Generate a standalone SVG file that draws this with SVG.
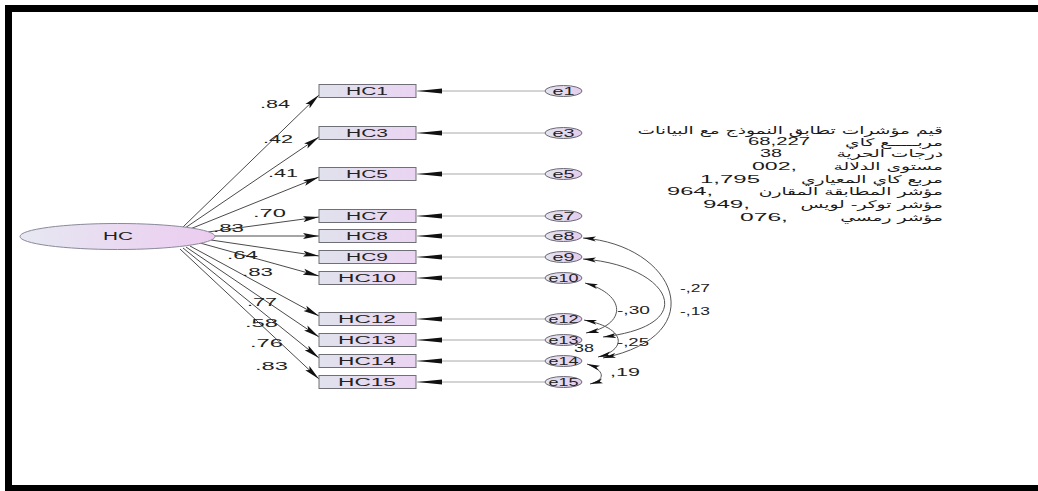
<svg xmlns="http://www.w3.org/2000/svg" width="1038" height="491" viewBox="0 0 1038 491">
<style>
.lat{fill:url(#gLat);stroke:#8a8a9a;stroke-width:1}
.obs{fill:url(#gObs);stroke:#6f6f78;stroke-width:1}
.err{fill:url(#gErr);stroke:#6a6a78;stroke-width:1}
.t{font-family:"Liberation Sans",Arial,sans-serif;fill:#222}
.nt{font-size:10px;text-anchor:middle}
.ld{font-size:11px}
.p{stroke:#4a4a4a;stroke-width:1;fill:none;marker-end:url(#ah)}
.el{stroke:#a8a8a8;stroke-width:1;fill:none;marker-end:url(#eh)}
.cv{stroke:#555;stroke-width:1;fill:none;marker-start:url(#ch);marker-end:url(#ch)}
.ar{font-family:"DejaVu Sans","Noto Sans",sans-serif;font-size:10.5px;fill:#1a1a1a;text-anchor:end}
.num{font-family:"Liberation Sans",Arial,sans-serif;font-size:11px;fill:#1a1a1a}
</style>
<defs>
<linearGradient id="gLat" x1="0" y1="0" x2="1" y2="0"><stop offset="0" stop-color="#e6e8f2"/><stop offset="1" stop-color="#ecccf0"/></linearGradient>
<linearGradient id="gObs" x1="0" y1="0" x2="1" y2="0"><stop offset="0" stop-color="#e0e2ec"/><stop offset="1" stop-color="#ead4f2"/></linearGradient>
<linearGradient id="gErr" x1="0" y1="0" x2="1" y2="0"><stop offset="0" stop-color="#e4e4ee"/><stop offset="1" stop-color="#e4cdee"/></linearGradient>
<marker id="ah" markerUnits="userSpaceOnUse" markerWidth="16" markerHeight="7" refX="16" refY="3.5" orient="auto"><path d="M0,0.5 L16,3.5 L0,6.5 L3,3.5 z" fill="#111"/></marker>
<marker id="eh" markerUnits="userSpaceOnUse" markerWidth="25" markerHeight="6" refX="25" refY="3" orient="auto"><path d="M0,0.6 L25,3 L0,5.4 z" fill="#111"/></marker>
<marker id="ch" markerUnits="userSpaceOnUse" markerWidth="13" markerHeight="6" refX="13" refY="3" orient="auto-start-reverse"><path d="M0,0.5 L13,3 L0,5.5 L3,3 z" fill="#111"/></marker>
</defs>
<rect x="0" y="0" width="1038" height="491" fill="#fff"/>
<g id="frame" fill="none" stroke="#000">
<line x1="5" y1="8.5" x2="1038" y2="8.5" stroke-width="7"/>
<line x1="8.5" y1="5" x2="8.5" y2="491" stroke-width="7"/>
<line x1="5" y1="488" x2="1038" y2="488" stroke-width="6"/>
</g>
<g id="connectors">
<path class="p" d="M183,227 L319,95"/>
<path class="p" d="M185,228 L319,137"/>
<path class="p" d="M190,229 L319,177"/>
<path class="p" d="M208,232 L319,217"/>
<path class="p" d="M215,236 L319,236"/>
<path class="p" d="M211,240 L319,256"/>
<path class="p" d="M200,243 L319,276"/>
<path class="p" d="M190,246 L319,316"/>
<path class="p" d="M186,247 L319,337"/>
<path class="p" d="M183,248 L319,358"/>
<path class="p" d="M180,249 L319,379"/>
<path class="el" d="M545,91 L417,91"/>
<path class="el" d="M545,133 L417,133"/>
<path class="el" d="M545,174 L417,174"/>
<path class="el" d="M545,216 L417,216"/>
<path class="el" d="M545,236 L417,236"/>
<path class="el" d="M545,257 L417,257"/>
<path class="el" d="M545,278 L417,278"/>
<path class="el" d="M545,319 L417,319"/>
<path class="el" d="M545,340 L417,340"/>
<path class="el" d="M545,361 L417,361"/>
<path class="el" d="M545,382 L417,382"/>
<path class="cv" d="M583,238 C675,245 715,335 603,358"/>
<path class="cv" d="M583,259 C668,265 705,325 603,337"/>
<path class="cv" d="M585,283 C627,295 627,325 586,333"/>
<path class="cv" d="M584,320 C627,328 627,350 598,357"/>
<path class="cv" d="M587,364 C605,370 606,380 590,384"/>
<g class="t ld">
<text x="260" y="108" textLength="30" lengthAdjust="spacingAndGlyphs">.84</text>
<text x="263" y="143" textLength="30" lengthAdjust="spacingAndGlyphs">.42</text>
<text x="268" y="177" textLength="30" lengthAdjust="spacingAndGlyphs">.41</text>
<text x="253" y="217" textLength="33" lengthAdjust="spacingAndGlyphs">.70</text>
<text x="213" y="232" textLength="31" lengthAdjust="spacingAndGlyphs">.83</text>
<text x="227" y="259" textLength="31" lengthAdjust="spacingAndGlyphs">.64</text>
<text x="242" y="276" textLength="31" lengthAdjust="spacingAndGlyphs">.83</text>
<text x="247" y="306" textLength="30" lengthAdjust="spacingAndGlyphs">.77</text>
<text x="245" y="327" textLength="33" lengthAdjust="spacingAndGlyphs">.58</text>
<text x="250" y="347" textLength="33" lengthAdjust="spacingAndGlyphs">.76</text>
<text x="255" y="370" textLength="33" lengthAdjust="spacingAndGlyphs">.83</text>
<text x="680" y="292" textLength="30" lengthAdjust="spacingAndGlyphs">-,27</text>
<text x="680" y="315" textLength="30" lengthAdjust="spacingAndGlyphs">-,13</text>
<text x="617" y="314" textLength="33" lengthAdjust="spacingAndGlyphs">-,30</text>
<text x="617" y="346" textLength="32" lengthAdjust="spacingAndGlyphs">-,25</text>
<text x="610" y="376" textLength="30" lengthAdjust="spacingAndGlyphs">,19</text>
<text x="574" y="352" textLength="20" lengthAdjust="spacingAndGlyphs">38</text>
</g>
</g>
<g id="HC"><ellipse class="lat" cx="117.5" cy="236.5" rx="97.5" ry="13"/><text class="t nt" x="118" y="240" textLength="30" lengthAdjust="spacingAndGlyphs">HC</text></g>
<g id="HC1"><rect class="obs" x="319" y="84.5" width="97" height="13"/><text class="t nt" x="367" y="95" textLength="42" lengthAdjust="spacingAndGlyphs">HC1</text></g>
<g id="HC3"><rect class="obs" x="319" y="126.5" width="97" height="13"/><text class="t nt" x="367" y="137" textLength="42" lengthAdjust="spacingAndGlyphs">HC3</text></g>
<g id="HC5"><rect class="obs" x="319" y="167.5" width="97" height="13"/><text class="t nt" x="367" y="178" textLength="42" lengthAdjust="spacingAndGlyphs">HC5</text></g>
<g id="HC7"><rect class="obs" x="319" y="209.5" width="97" height="13"/><text class="t nt" x="367" y="220" textLength="42" lengthAdjust="spacingAndGlyphs">HC7</text></g>
<g id="HC8"><rect class="obs" x="319" y="229.5" width="97" height="13"/><text class="t nt" x="367" y="240" textLength="42" lengthAdjust="spacingAndGlyphs">HC8</text></g>
<g id="HC9"><rect class="obs" x="319" y="250.5" width="97" height="13"/><text class="t nt" x="367" y="261" textLength="42" lengthAdjust="spacingAndGlyphs">HC9</text></g>
<g id="HC10"><rect class="obs" x="319" y="271.5" width="97" height="13"/><text class="t nt" x="367" y="282" textLength="58" lengthAdjust="spacingAndGlyphs">HC10</text></g>
<g id="HC12"><rect class="obs" x="319" y="312.5" width="97" height="13"/><text class="t nt" x="367" y="323" textLength="58" lengthAdjust="spacingAndGlyphs">HC12</text></g>
<g id="HC13"><rect class="obs" x="319" y="333.5" width="97" height="13"/><text class="t nt" x="367" y="344" textLength="58" lengthAdjust="spacingAndGlyphs">HC13</text></g>
<g id="HC14"><rect class="obs" x="319" y="354.5" width="97" height="13"/><text class="t nt" x="367" y="365" textLength="58" lengthAdjust="spacingAndGlyphs">HC14</text></g>
<g id="HC15"><rect class="obs" x="319" y="375.5" width="97" height="13"/><text class="t nt" x="367" y="386" textLength="58" lengthAdjust="spacingAndGlyphs">HC15</text></g>
<g id="e1"><ellipse class="err" cx="563.5" cy="91" rx="18.5" ry="5.5"/><text class="t nt" x="563.5" y="94.5" textLength="22" lengthAdjust="spacingAndGlyphs">e1</text></g>
<g id="e3"><ellipse class="err" cx="563.5" cy="133" rx="18.5" ry="5.5"/><text class="t nt" x="563.5" y="136.5" textLength="22" lengthAdjust="spacingAndGlyphs">e3</text></g>
<g id="e5"><ellipse class="err" cx="563.5" cy="174" rx="18.5" ry="5.5"/><text class="t nt" x="563.5" y="177.5" textLength="22" lengthAdjust="spacingAndGlyphs">e5</text></g>
<g id="e7"><ellipse class="err" cx="563.5" cy="216" rx="18.5" ry="5.5"/><text class="t nt" x="563.5" y="219.5" textLength="22" lengthAdjust="spacingAndGlyphs">e7</text></g>
<g id="e8"><ellipse class="err" cx="563.5" cy="236" rx="18.5" ry="5.5"/><text class="t nt" x="563.5" y="239.5" textLength="22" lengthAdjust="spacingAndGlyphs">e8</text></g>
<g id="e9"><ellipse class="err" cx="563.5" cy="257" rx="18.5" ry="5.5"/><text class="t nt" x="563.5" y="260.5" textLength="22" lengthAdjust="spacingAndGlyphs">e9</text></g>
<g id="e10"><ellipse class="err" cx="563.5" cy="278" rx="18.5" ry="5.5"/><text class="t nt" x="563.5" y="281.5" textLength="30" lengthAdjust="spacingAndGlyphs">e10</text></g>
<g id="e12"><ellipse class="err" cx="563.5" cy="319" rx="18.5" ry="5.5"/><text class="t nt" x="563.5" y="322.5" textLength="30" lengthAdjust="spacingAndGlyphs">e12</text></g>
<g id="e13"><ellipse class="err" cx="563.5" cy="340" rx="18.5" ry="5.5"/><text class="t nt" x="563.5" y="343.5" textLength="30" lengthAdjust="spacingAndGlyphs">e13</text></g>
<g id="e14"><ellipse class="err" cx="563.5" cy="361" rx="18.5" ry="5.5"/><text class="t nt" x="563.5" y="364.5" textLength="30" lengthAdjust="spacingAndGlyphs">e14</text></g>
<g id="e15"><ellipse class="err" cx="563.5" cy="382" rx="18.5" ry="5.5"/><text class="t nt" x="563.5" y="385.5" textLength="30" lengthAdjust="spacingAndGlyphs">e15</text></g>
<g id="fit">
<g transform="translate(943,0) scale(1.78,1)">
<text class="ar" x="0" y="134">قيم مؤشرات تطابق النموذج مع البيانات</text>
<text class="ar" x="0" y="146">مربـــــع كاي</text>
<text class="ar" x="0" y="157">درجات الحرية</text>
<text class="ar" x="0" y="170">مستوى الدلالة</text>
<text class="ar" x="0" y="183">مربع كاي المعياري</text>
<text class="ar" x="0" y="195">مؤشر المطابقة المقارن</text>
<text class="ar" x="0" y="208">مؤشر توكر- لويس</text>
<text class="ar" x="0" y="221">مؤشر رمسي</text>
</g>
<text class="num" x="748" y="145" textLength="62" lengthAdjust="spacingAndGlyphs">68,227</text>
<text class="num" x="760" y="157" textLength="22" lengthAdjust="spacingAndGlyphs">38</text>
<text class="num" x="752" y="170" textLength="45" lengthAdjust="spacingAndGlyphs">002,</text>
<text class="num" x="700" y="183" textLength="60" lengthAdjust="spacingAndGlyphs">1,795</text>
<text class="num" x="667" y="195" textLength="46" lengthAdjust="spacingAndGlyphs">964,</text>
<text class="num" x="703" y="208" textLength="47" lengthAdjust="spacingAndGlyphs">949,</text>
<text class="num" x="740" y="221" textLength="48" lengthAdjust="spacingAndGlyphs">076,</text>
</g>
</svg>
